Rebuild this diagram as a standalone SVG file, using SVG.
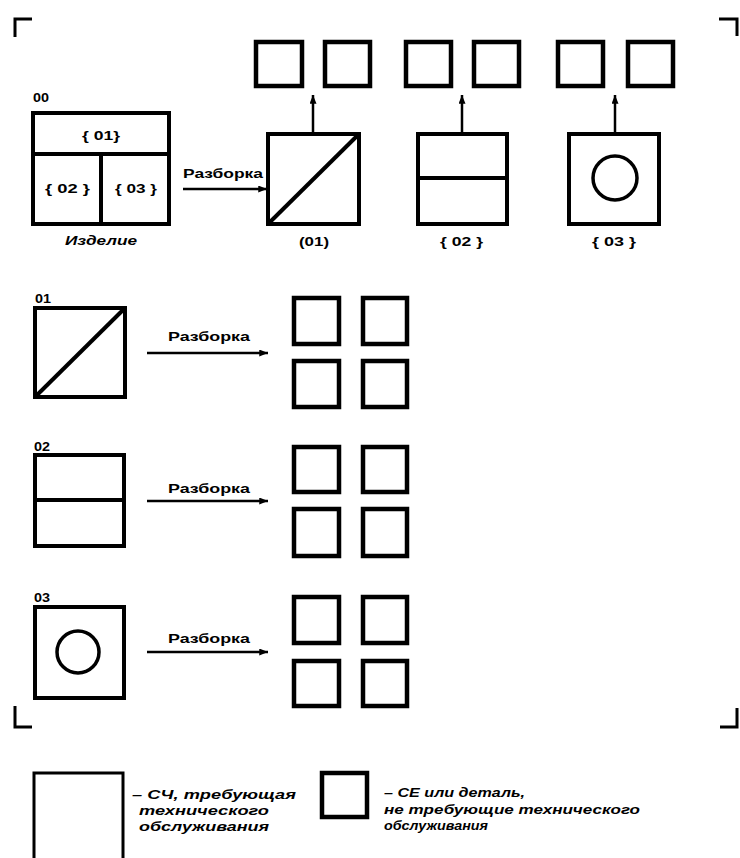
<svg xmlns="http://www.w3.org/2000/svg" width="740" height="858" viewBox="0 0 740 858">
<defs>
<marker id="ah" viewBox="0 0 10 8" refX="10" refY="4" markerWidth="9" markerHeight="7" markerUnits="userSpaceOnUse" orient="auto">
<path d="M0,0 L10,4 L0,8 Z" fill="#000"/>
</marker>
</defs>
<style>
.b{fill:none;stroke:#000;stroke-width:4}
.s{fill:none;stroke:#000;stroke-width:4.5}
.l{fill:none;stroke:#000;stroke-width:4}
.c{fill:none;stroke:#000;stroke-width:3.5}
.a{fill:none;stroke:#000;stroke-width:2.5;marker-end:url(#ah)}
.t{font-family:"Liberation Sans",Arial,sans-serif;font-weight:bold;font-size:13px;fill:#000}
.m{text-anchor:middle}
.i{font-family:"Liberation Sans",Arial,sans-serif;font-weight:bold;font-style:italic;font-size:12px;fill:#000}
.k{fill:none;stroke:#000;stroke-width:3}
</style>
<rect width="740" height="858" fill="#fff"/>
<g id="corners">
<path class="k" d="M15,37 V19 H32"/>
<path class="k" d="M719,19 H737 V36"/>
<path class="k" d="M15,706 V727 H32"/>
<path class="k" d="M720,727 H737 V708"/>
</g>
<g id="product-00">
<text class="t" x="33" y="102" textLength="16" lengthAdjust="spacingAndGlyphs">00</text>
<rect class="b" x="33" y="113" width="136" height="111"/>
<line class="l" x1="33" y1="154" x2="169" y2="154"/>
<line class="l" x1="101" y1="154" x2="101" y2="224"/>
<text class="t" x="82" y="140" textLength="38" lengthAdjust="spacingAndGlyphs">{ 01}</text>
<text class="t" x="45" y="193" textLength="45" lengthAdjust="spacingAndGlyphs">{ 02 }</text>
<text class="t" x="115" y="193" textLength="42" lengthAdjust="spacingAndGlyphs">{ 03 }</text>
<text class="i m" x="101" y="245" textLength="72" lengthAdjust="spacingAndGlyphs">Изделие</text>
</g>
<g id="top-01">
<rect class="b" x="268" y="134" width="91" height="90"/>
<line class="l" x1="268" y1="224" x2="359" y2="134"/>
<text class="t" x="299" y="246" textLength="30" lengthAdjust="spacingAndGlyphs">(01)</text>
</g>
<g id="top-02">
<rect class="b" x="418" y="134" width="89" height="90"/>
<line class="l" x1="418" y1="178" x2="507" y2="178"/>
<text class="t" x="440" y="246" textLength="43" lengthAdjust="spacingAndGlyphs">{ 02 }</text>
</g>
<g id="top-03">
<rect class="b" x="569" y="134" width="90" height="90"/>
<circle class="c" cx="615" cy="178" r="22"/>
<text class="t" x="592" y="246" textLength="44" lengthAdjust="spacingAndGlyphs">{ 03 }</text>
</g>
<g id="top-parts">
<rect class="s" x="256" y="42" width="46" height="44"/>
<rect class="s" x="325" y="42" width="45" height="44"/>
<rect class="s" x="406" y="42" width="45" height="44"/>
<rect class="s" x="474" y="42" width="45" height="44"/>
<rect class="s" x="558" y="42" width="45" height="44"/>
<rect class="s" x="628" y="42" width="45" height="44"/>
</g>
<g id="sec-01">
<text class="t" x="35" y="303" textLength="16" lengthAdjust="spacingAndGlyphs">01</text>
<rect class="b" x="35" y="308" width="90" height="89"/>
<line class="l" x1="35" y1="397" x2="125" y2="308"/>
</g>
<g id="sec-01-parts">
<rect class="s" x="294" y="298" width="45" height="46"/>
<rect class="s" x="363" y="298" width="44" height="46"/>
<rect class="s" x="294" y="361" width="45" height="46"/>
<rect class="s" x="363" y="361" width="44" height="46"/>
</g>
<g id="sec-02">
<text class="t" x="34" y="451" textLength="16" lengthAdjust="spacingAndGlyphs">02</text>
<rect class="b" x="35" y="455" width="89" height="91"/>
<line class="l" x1="35" y1="500" x2="124" y2="500"/>
</g>
<g id="sec-02-parts">
<rect class="s" x="294" y="447" width="45" height="45"/>
<rect class="s" x="363" y="447" width="44" height="45"/>
<rect class="s" x="294" y="509" width="45" height="47"/>
<rect class="s" x="363" y="509" width="44" height="47"/>
</g>
<g id="sec-03">
<text class="t" x="34" y="602" textLength="16" lengthAdjust="spacingAndGlyphs">03</text>
<rect class="b" x="35" y="607" width="89" height="91"/>
<circle class="c" cx="78" cy="652" r="21"/>
</g>
<g id="sec-03-parts">
<rect class="s" x="294" y="597" width="45" height="46"/>
<rect class="s" x="363" y="597" width="44" height="46"/>
<rect class="s" x="294" y="661" width="45" height="45"/>
<rect class="s" x="363" y="661" width="44" height="45"/>
</g>
<g id="connectors">
<line class="a" x1="183" y1="189" x2="267" y2="189"/>
<text class="t" x="183" y="178" textLength="80" lengthAdjust="spacingAndGlyphs">Разборка</text>
<line class="a" x1="313" y1="132" x2="313" y2="95"/>
<line class="a" x1="462" y1="132" x2="462" y2="95"/>
<line class="a" x1="615" y1="132" x2="615" y2="95"/>
<line class="a" x1="147" y1="353" x2="268" y2="353"/>
<text class="t" x="168" y="341" textLength="82" lengthAdjust="spacingAndGlyphs">Разборка</text>
<line class="a" x1="147" y1="501" x2="268" y2="501"/>
<text class="t" x="168" y="493" textLength="82" lengthAdjust="spacingAndGlyphs">Разборка</text>
<line class="a" x1="147" y1="652" x2="268" y2="652"/>
<text class="t" x="168" y="643" textLength="82" lengthAdjust="spacingAndGlyphs">Разборка</text>
</g>
<g id="legend">
<rect class="k" x="34" y="773" width="89" height="90"/>
<text class="i" x="132" y="799" textLength="164" lengthAdjust="spacingAndGlyphs">– СЧ, требующая</text>
<text class="i" x="139" y="815" textLength="130" lengthAdjust="spacingAndGlyphs">технического</text>
<text class="i" x="139" y="831" textLength="130" lengthAdjust="spacingAndGlyphs">обслуживания</text>
<rect class="s" x="322" y="773" width="45" height="44"/>
<text class="i" x="384" y="797" textLength="141" lengthAdjust="spacingAndGlyphs">– СЕ или деталь,</text>
<text class="i" x="384" y="814" textLength="256" lengthAdjust="spacingAndGlyphs">не требующие технического</text>
<text class="i" x="384" y="830" textLength="104" lengthAdjust="spacingAndGlyphs">обслуживания</text>
</g>
</svg>
